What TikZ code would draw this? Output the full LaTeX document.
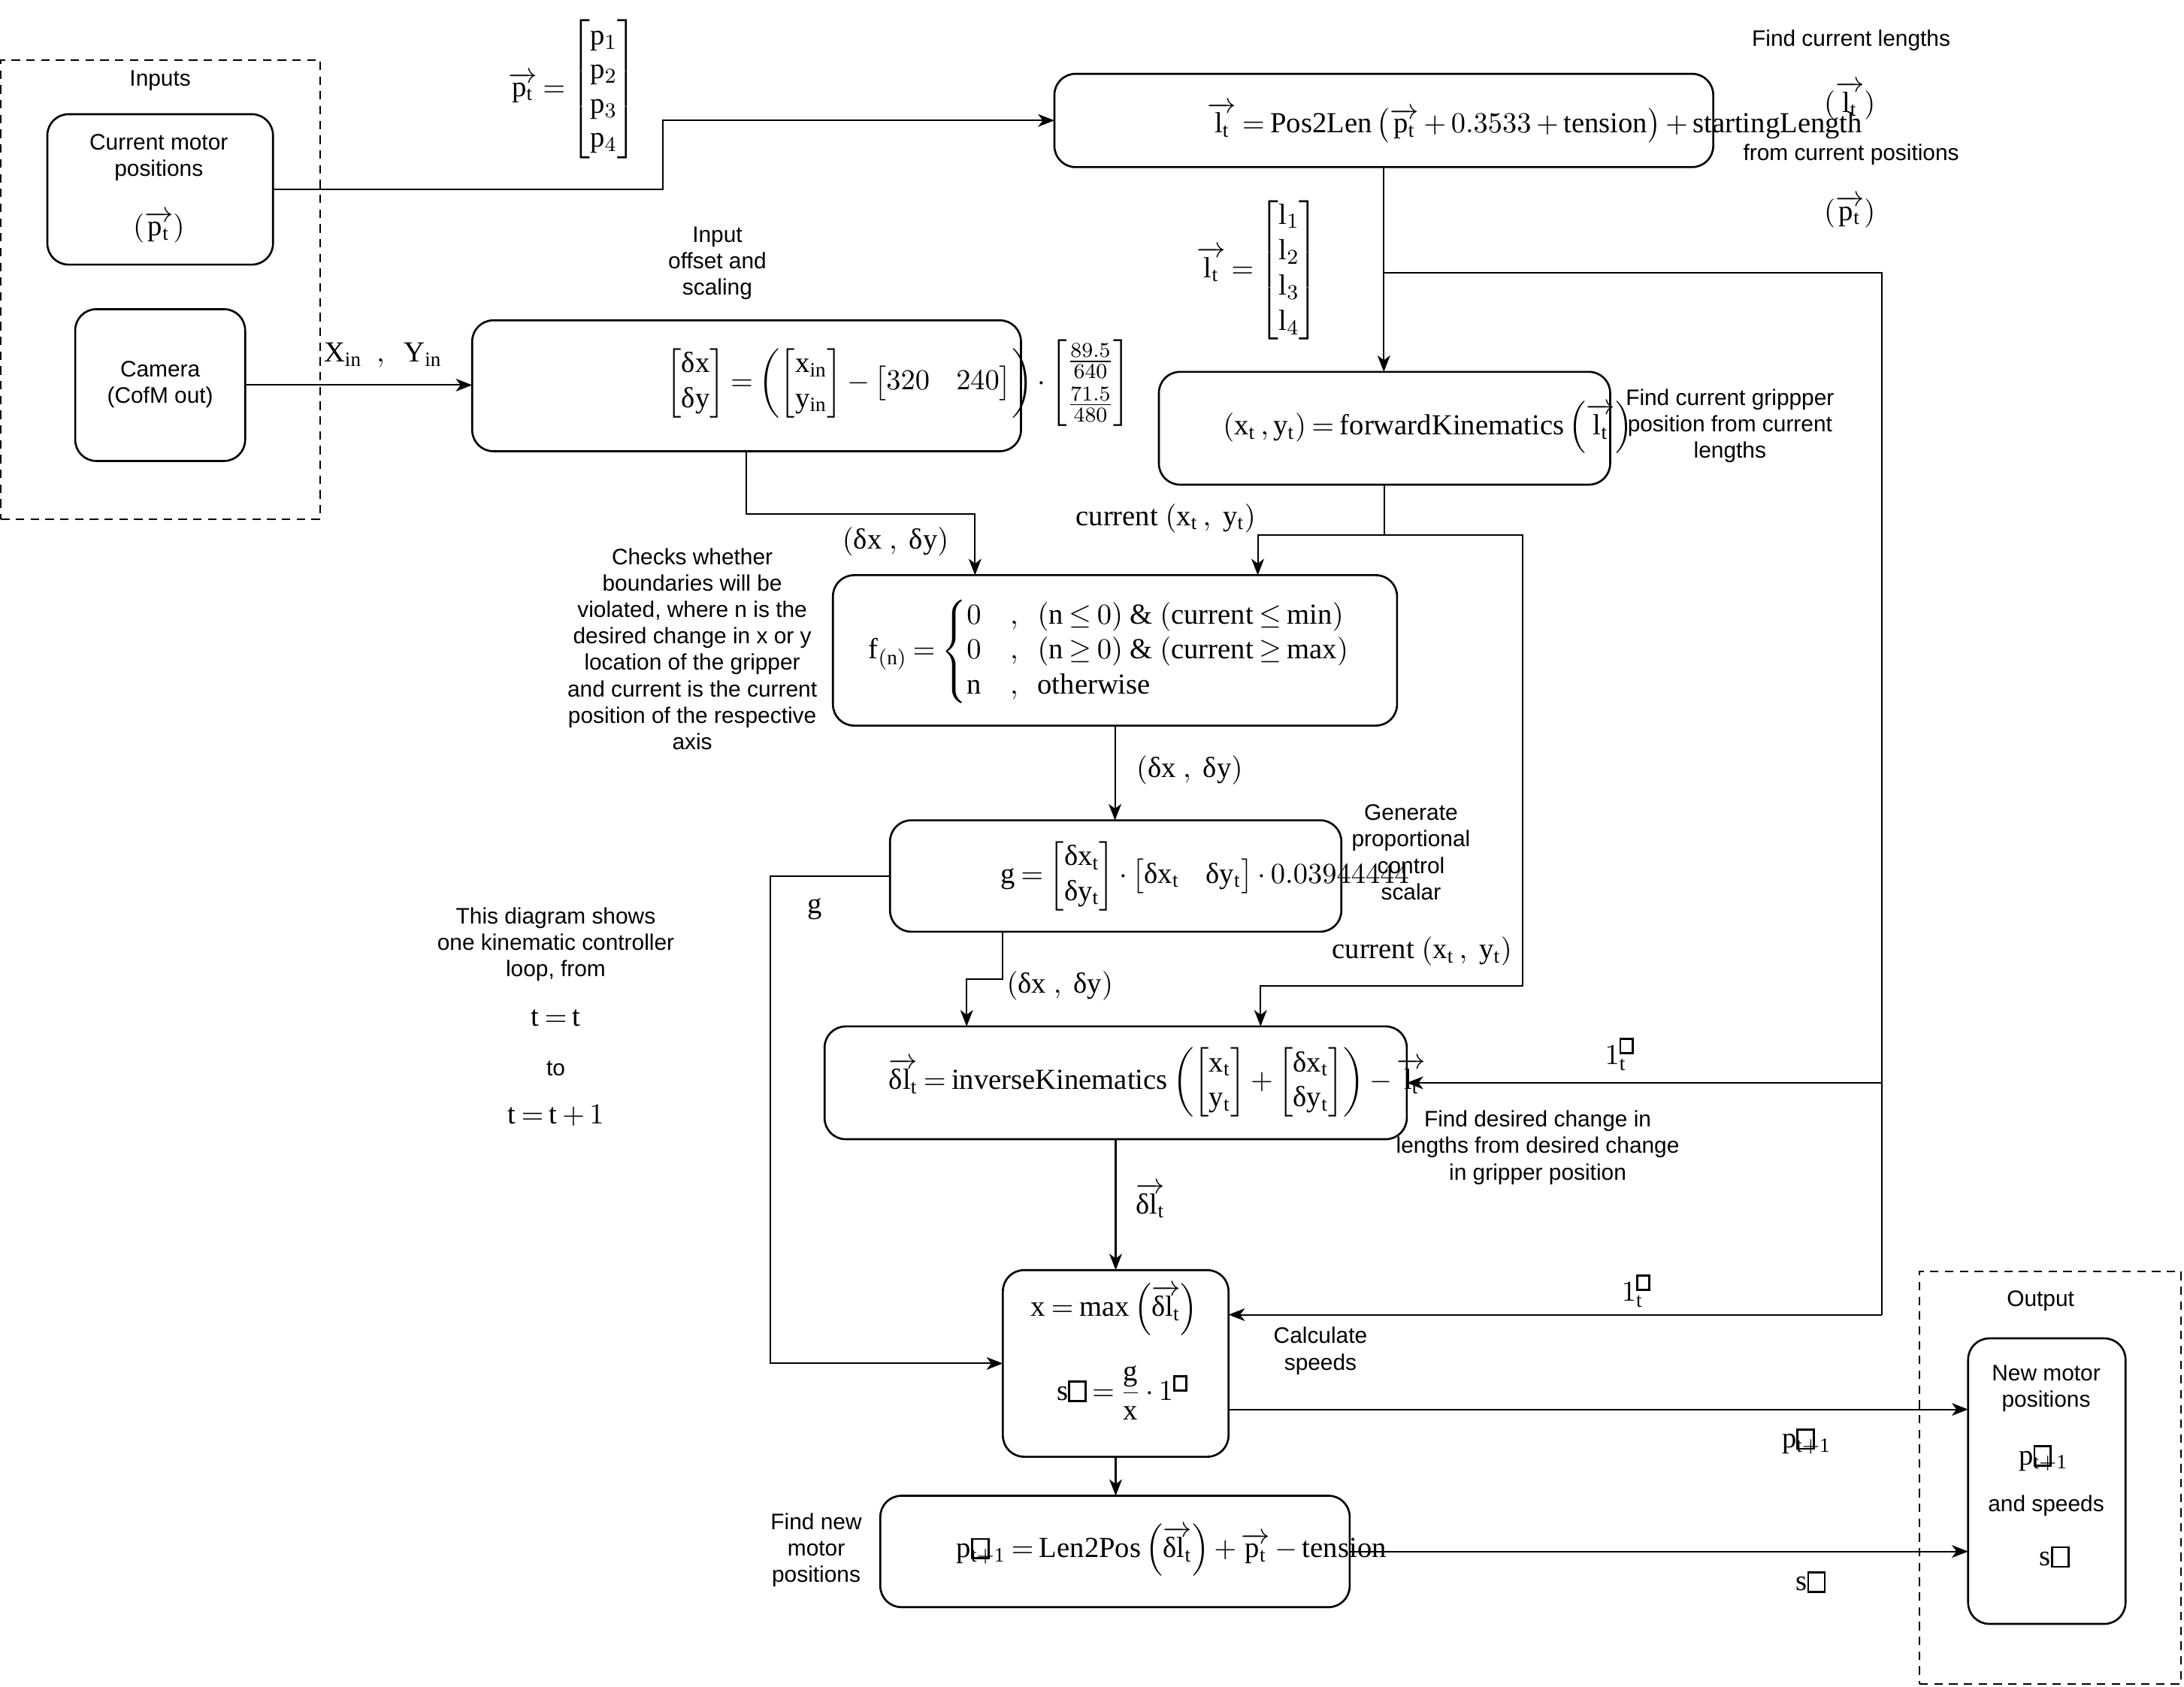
\documentclass[tikz,border=0pt]{standalone}
\usepackage{amsmath}
\usepackage{fontspec}
\setmainfont{Liberation Serif}
\setsansfont{Liberation Sans}
\usetikzlibrary{arrows.meta,fit}

% upright roman letters in formulas
\newcommand\mr[1]{\mathrm{#1}}
\newcommand\dlt{\text{δ}}
% empty box standing in for a glyph the font lacks
\newcommand\nogl{\text{\setlength\fboxsep{0pt}\setlength\fboxrule{0.75pt}\fbox{\rule{0pt}{0.6em}\hspace{0.5em}}}}
\newcommand\vp{\overrightarrow{\mr{p}_{\mr{t}}}}
\newcommand\vl{\overrightarrow{\mr{l}_{\mr{t}}}}
\newcommand\vdl{\overrightarrow{\dlt\mr{l}_{\mr{t}}}}
\newcommand\pnext{\mr{p}\rlap{\nogl}_{\mr{t+1}}}
% tighter spacing around relations and binary operators
\newcommand\tightmath{\thickmuskip=3.5mu plus 1mu\medmuskip=3mu plus 1mu}

\begin{document}
\begin{tikzpicture}[x=0.0185332cm, y=-0.0185332cm,
  every node/.style={inner sep=0pt, outer sep=0pt},
  proc/.style={draw, line width=0.75pt, rounded corners=8pt, fit={#1}},
  grp/.style={draw, line width=0.65pt, dash pattern=on 3.2pt off 2.4pt, fit={#1}},
  lbl/.style={font=\sffamily\fontsize{8.5}{10}\selectfont, align=center},
  eq/.style={font=\fontsize{11}{13.2}\selectfont\tightmath},
  link/.style={line width=0.6pt},
  arr/.style={link, -{Stealth[length=6.2pt,width=4.8pt,inset=1.8pt]}}]
\useasboundingbox (0,0) rectangle (1568,1211);

% ---------- groups ----------
\node[grp={(0.7,43)(230,373)}] (ingrp) {};
\node[lbl] (ingrpt) at (115,58) {Inputs};
\node[grp={(1378,913)(1566,1209)}] (outgrp) {};
\node[lbl] (outgrpt) at (1465,934) {Output};

% ---------- input blocks ----------
\node[proc={(34,82)(196,190)}] (cur) {};
\node[lbl] (curt) at (114,113) {Current motor\\positions};
\node[eq] (curp) at (114,163) {$(\vp)$};

\node[proc={(54,222)(176,331)}] (cam) {};
\node[lbl] (camt) at (115,276) {Camera\\(CofM out)};

% ---------- processing blocks ----------
\node[proc={(757,53)(1230,120)}] (p2l) {};
\node[eq] (p2lf) at (1102,88) {$\vl = \mr{Pos2Len}\left(\vp + 0.3533 + \mr{tension}\right) + \mr{startingLength}$};

\node[proc={(339,230)(733,324)}] (off) {};
\node[eq] (offf) at (645,275) {$\begin{bmatrix}\dlt\mr{x}\\ \dlt\mr{y}\end{bmatrix} = \left(\begin{bmatrix}\mr{x}_{\mr{in}}\\ \mr{y}_{\mr{in}}\end{bmatrix} - \begin{bmatrix}320 & 240\end{bmatrix}\right)\cdot\begin{bmatrix}\frac{89.5}{640}\\[3pt] \frac{71.5}{480}\end{bmatrix}$};

\node[proc={(832,267)(1156,348)}] (fk) {};
\node[eq] (fkf) at (1025,307) {$(\mr{x}_{\mr{t}}\,,\mr{y}_{\mr{t}}) = \mr{forwardKinematics}\left(\vl\right)$};

\node[proc={(598,413)(1003,521)}] (fb) {};
\node[eq] (fbf) at (797,468) {$\mr{f}_{(\mr{n})} = \left\{\begin{array}{@{}l@{\quad}l@{}}
  0 & ,\ \ (\mr{n}\leq 0)\ \text{\&}\ (\mr{current}\leq\mr{min})\\
  0 & ,\ \ (\mr{n}\geq 0)\ \text{\&}\ (\mr{current}\geq\mr{max})\\
  \mr{n} & ,\ \ \mr{otherwise}\end{array}\right.$};

\node[proc={(639,589)(963,669)}] (gb) {};
\node[eq] (gbf) at (865,629) {$\mr{g} = \begin{bmatrix}\dlt\mr{x}_{\mr{t}}\\ \dlt\mr{y}_{\mr{t}}\end{bmatrix}\cdot\begin{bmatrix}\dlt\mr{x}_{\mr{t}} & \dlt\mr{y}_{\mr{t}}\end{bmatrix}\cdot 0.03944444$};

\node[proc={(592,737)(1010,818)}] (ik) {};
\node[eq] (ikf) at (831,777) {$\vdl = \mr{inverseKinematics}\left(\begin{bmatrix}\mr{x}_{\mr{t}}\\ \mr{y}_{\mr{t}}\end{bmatrix} + \begin{bmatrix}\dlt\mr{x}_{\mr{t}}\\ \dlt\mr{y}_{\mr{t}}\end{bmatrix}\right) - \vl$};

\node[proc={(720,912)(882,1046)}] (mx) {};
\node[eq] (mxf1) at (800,940) {$\mr{x} = \mr{max}\left(\vdl\right)$};
\node[eq] (mxf2) at (806,1000) {$\mr{s}\nogl = \dfrac{\mr{g}}{\mr{x}}\cdot 1^{\nogl}$};

\node[proc={(632,1074)(969,1154)}] (l2p) {};
\node[eq] (l2pf) at (841,1113) {$\pnext = \mr{Len2Pos}\left(\vdl\right) + \vp - \mr{tension}$};

% ---------- output block ----------
\node[proc={(1413,961)(1526,1166)}] (nm) {};
\node[lbl] (nmt1) at (1469,997) {New motor\\positions};
\node[eq] (nmp) at (1467,1047) {$\pnext$};
\node[lbl] (nmt2) at (1469,1081) {and speeds};
\node[eq] (nms) at (1475,1118) {$\mr{s}\nogl$};

% ---------- vectors ----------
\node[eq] (pvec) at (411,64) {\renewcommand\arraystretch{0.98}$\vp = \begin{bmatrix}\mr{p}_1\\ \mr{p}_2\\ \mr{p}_3\\ \mr{p}_4\end{bmatrix}$};
\node[eq] (lvec) at (903,194) {\renewcommand\arraystretch{1.02}$\vl = \begin{bmatrix}\mr{l}_1\\ \mr{l}_2\\ \mr{l}_3\\ \mr{l}_4\end{bmatrix}$};

% ---------- connectors ----------
\coordinate (j1) at (476,136);
\draw[arr] (cur.east) -- (cur.east -| j1) |- (p2l.west);
\draw[arr] (cam.east) -- (cam.east -| off.west);
\draw[arr] (p2l.south) -- (p2l.south |- fk.north);

\coordinate (tap) at (993.5,196);
\coordinate (rail) at (1351,196);
\coordinate (r944) at (1351,944);
\draw[link] (tap) -- (rail) -- (r944);
\draw[arr] (rail |- ik.east) -- (ik.east);
\draw[arr] (r944) -- (mx.east |- r944);

\coordinate (fkj) at (994,384);
\coordinate (fkl) at (903,384);
\coordinate (fkr) at (1093,384);
\coordinate (ikr) at (905,708);
\draw[link] (fk.south) -- (fkj);
\draw[arr] (fkj) -- (fkl) -- (fkl |- fb.north);
\draw[arr] (fkj) -- (fkr) |- (ikr) -- (ikr |- ik.north);

\coordinate (oj) at (700,369);
\draw[arr] (off.south) |- (oj) -- (oj |- fb.north);

\draw[arr] (fb.south) -- (fb.south |- gb.north);

\coordinate (gl) at (553,629);
\draw[arr] (gb.west) -- (gb.west -| gl) |- (mx.west);

\coordinate (gd) at (720,703);
\coordinate (gd2) at (694,703);
\draw[arr] (gd |- gb.south) -- (gd) -- (gd2) -- (gd2 |- ik.north);

\draw[arr] (ik.south) -- (ik.south |- mx.north);
\coordinate (mo) at (882,1012);
\draw[arr] (mx.east |- mo) -- (nm.west |- mo);
\draw[arr] (mx.south) -- (mx.south |- l2p.north);
\draw[arr] (l2p.east) -- (l2p.east -| nm.west);

% ---------- connector labels ----------
\node[eq] (xyin) at (275,255) {$\mr{X}_{\mr{in}}\ \ ,\ \ \mr{Y}_{\mr{in}}$};
\node[eq] (d1) at (643,389) {$(\dlt\mr{x}\ ,\ \dlt\mr{y})$};
\node[eq] (d2) at (854,553) {$(\dlt\mr{x}\ ,\ \dlt\mr{y})$};
\node[eq] (d3) at (761,708) {$(\dlt\mr{x}\ ,\ \dlt\mr{y})$};
\node[eq] (c1) at (837,372) {$\mr{current}\ (\mr{x}_{\mr{t}}\,,\ \mr{y}_{\mr{t}})$};
\node[eq] (c2) at (1021,683) {$\mr{current}\ (\mr{x}_{\mr{t}}\,,\ \mr{y}_{\mr{t}})$};
\node[eq] (gl1) at (585,653) {$\mr{g}$};
\node[eq] (l1) at (1163,757) {$1_{\mr{t}}^{\nogl}$};
\node[eq] (l2) at (1175,927) {$1_{\mr{t}}^{\nogl}$};
\node[eq] (dl) at (826,862) {$\vdl$};
\node[eq] (po) at (1297,1035) {$\pnext$};
\node[eq] (so) at (1300,1136) {$\mr{s}\nogl$};

% ---------- notes ----------
\node[lbl] (n1) at (1329,29) {Find current lengths};
\node[eq] (n1a) at (1328,72) {$(\vl)$};
\node[lbl] (n1b) at (1329,111) {from current positions};
\node[eq] (n1c) at (1328,152) {$(\vp)$};
\node[lbl] (n2) at (515,189) {Input\\offset and\\scaling};
\node[lbl] (n3) at (1242,306) {Find current grippper\\position from current\\lengths};
\node[lbl] (n4) at (497,466) {Checks whether\\boundaries will be\\violated, where n is the\\desired change in x or y\\location of the gripper\\and current is the current\\position of the respective\\axis};
\node[lbl] (n5) at (1013,612) {Generate\\proportional\\control\\scalar};
\node[lbl] (n6) at (1104,824) {Find desired change in\\lengths from desired change\\in gripper position};
\node[lbl] (n7) at (948,970) {Calculate\\speeds};
\node[lbl] (n8) at (586,1113) {Find new\\motor\\positions};
\node[lbl] (n9) at (399,678) {This diagram shows\\one kinematic controller\\loop, from};
\node[eq] (n9a) at (399,731) {$\mr{t} = \mr{t}$};
\node[lbl] (n9b) at (399,767) {to};
\node[eq] (n9c) at (399,801) {$\mr{t} = \mr{t} + 1$};
\end{tikzpicture}
\end{document}
